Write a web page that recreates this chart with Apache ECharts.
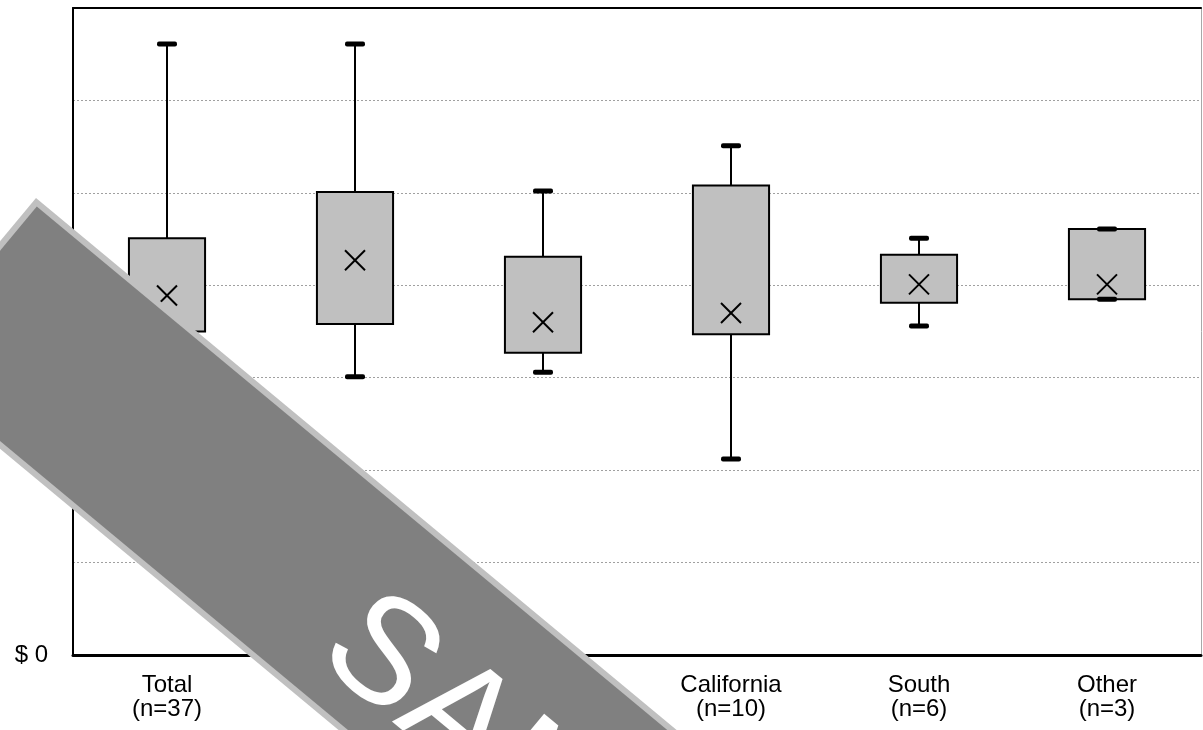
<!DOCTYPE html>
<html>
<head>
<meta charset="utf-8">
<title>Box plot by region</title>
<script src="https://cdn.jsdelivr.net/npm/echarts@6/dist/echarts.min.js"></script>
<style>
	html, body { margin: 0; padding: 0; background: #fff; }
	#chart { width: 1203px; height: 730px; }
</style>
</head>
<body>
<div id="chart"></div>
<script>
// regions and sample sizes (two labels are hidden under the watermark)
var regions = ['Total', 'North', 'West', 'California', 'South', 'Other'];
var counts = [37, 9, 9, 10, 6, 3];

// box values, one entry per region (grid units)
var minValues = [2.12, 3.01, 3.06, 2.12, 3.56, 3.85];
var q1Values = [3.50, 3.58, 3.27, 3.47, 3.81, 3.85];
var q3Values = [4.51, 5.01, 4.31, 5.08, 4.33, 4.61];
var maxValues = [6.61, 6.61, 5.02, 5.51, 4.51, 4.61];
var meanValues = [3.89, 4.27, 3.60, 3.70, 4.01, 4.01];

var categories = regions.map(function(r, i) {
	return r + '\n(n=' + counts[i] + ')';
});

var boxData = regions.map(function(r, i) {
	return [i, minValues[i], q1Values[i], q3Values[i], maxValues[i], meanValues[i]];
});

function renderBox(params, api) {
	var idx = api.value(0),
		x = api.coord([idx, 0])[0],
		yMin = api.coord([idx, api.value(1)])[1],
		yQ1 = api.coord([idx, api.value(2)])[1],
		yQ3 = api.coord([idx, api.value(3)])[1],
		yMax = api.coord([idx, api.value(4)])[1],
		yMean = api.coord([idx, api.value(5)])[1],
		bw = api.size([1, 0])[0] * 0.405,
		cw = 20,
		ch = 5,
		m = 10,
		line = { stroke: '#000', lineWidth: 2 };

	return {
		type: 'group',
		children: [
			{ type: 'line', shape: { x1: x, y1: yMax, x2: x, y2: yQ3 }, style: line },
			{ type: 'line', shape: { x1: x, y1: yQ1, x2: x, y2: yMin }, style: line },
			{
				type: 'rect',
				shape: { x: x - bw / 2, y: yQ3, width: bw, height: yQ1 - yQ3 },
				style: { fill: '#c0c0c0', stroke: '#000', lineWidth: 2 }
			},
			{ type: 'rect', shape: { x: x - cw / 2, y: yMax - ch / 2, width: cw, height: ch, r: 2 }, style: { fill: '#000' } },
			{ type: 'rect', shape: { x: x - cw / 2, y: yMin - ch / 2, width: cw, height: ch, r: 2 }, style: { fill: '#000' } },
			{ type: 'line', shape: { x1: x - m, y1: yMean - m, x2: x + m, y2: yMean + m }, style: line },
			{ type: 'line', shape: { x1: x - m, y1: yMean + m, x2: x + m, y2: yMean - m }, style: line }
		]
	};
}

var chart = echarts.init(document.getElementById('chart'), null, { renderer: 'canvas' });

var option = {
	animation: false,
	backgroundColor: '#fff',
	textStyle: { fontFamily: '"Liberation Sans", Arial, sans-serif' },
	grid: { left: 73, top: 8, right: 2, bottom: 75 },
	xAxis: [
		{
			type: 'category',
			data: categories,
			axisLine: { lineStyle: { color: '#000', width: 3 } },
			axisTick: { show: false },
			splitLine: { show: false },
			axisLabel: { color: '#000', fontSize: 24, lineHeight: 24, margin: 18, interval: 0 }
		},
		{
			type: 'category',
			data: categories,
			position: 'top',
			axisLine: { onZero: false, lineStyle: { color: '#000', width: 2 } },
			axisTick: { show: false },
			axisLabel: { show: false }
		}
	],
	yAxis: [
		{
			type: 'value',
			min: 0,
			max: 7,
			interval: 1,
			axisLine: { show: true, lineStyle: { color: '#000', width: 2 } },
			axisTick: { show: false },
			splitLine: { lineStyle: { color: '#a0a0a0', type: [2, 2], width: 1 } },
			axisLabel: {
				color: '#000',
				fontSize: 24,
				margin: 25,
				formatter: function(v) { return v === 0 ? '$ 0' : ''; }
			}
		},
		{
			type: 'value',
			min: 0,
			max: 7,
			interval: 1,
			position: 'right',
			axisLine: { show: true, onZero: false, lineStyle: { color: '#a8a8a8', width: 1 } },
			axisTick: { show: false },
			axisLabel: { show: false },
			splitLine: { show: false }
		}
	],
	series: [
		{
			type: 'custom',
			renderItem: renderBox,
			data: boxData,
			encode: { x: 0, y: [1, 2, 3, 4, 5] },
			z: 5
		}
	],
	graphic: [
		{
			type: 'group',
			x: 36,
			y: 198,
			rotation: -0.693,
			z: 100,
			children: [
				{ type: 'rect', z: 100, shape: { x: 0, y: 0, width: 1300, height: 216 }, style: { fill: '#c0c0c0' } },
				{ type: 'rect', z: 101, shape: { x: 6, y: 6, width: 1300, height: 204 }, style: { fill: '#808080' } },
				{
					type: 'text',
					z: 102,
					x: 508,
					y: 134,
					style: {
						text: 'SAMPLE',
						fill: '#ffffff',
						font: 'normal 150px "Liberation Sans", Arial, sans-serif',
						verticalAlign: 'middle',
						align: 'left'
					}
				}
			]
		}
	]
};

chart.setOption(option);
</script>
</body>
</html>
